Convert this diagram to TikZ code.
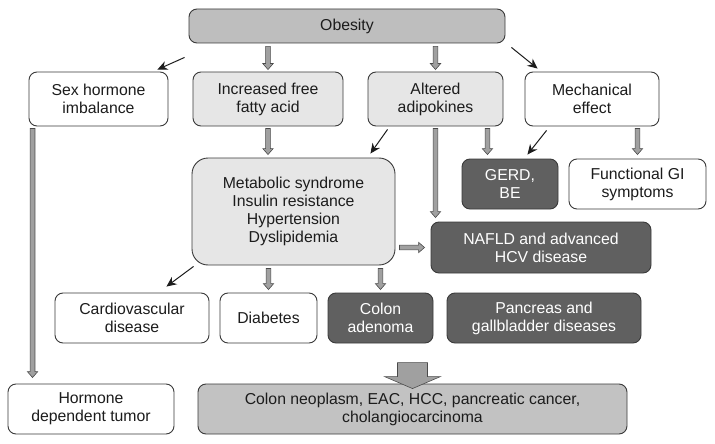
\documentclass[tikz,border=0pt]{standalone}
\usepackage{fontspec}
\setmainfont{Liberation Sans}
\usetikzlibrary{arrows.meta,calc}
\definecolor{txt}{HTML}{1C1C1C}
\definecolor{bord}{HTML}{3A3A3A}
\definecolor{topfill}{HTML}{BEBEBE}
\definecolor{lightfill}{HTML}{E6E6E6}
\definecolor{darkfill}{HTML}{606060}
\definecolor{neofill}{HTML}{C2C2C2}
\definecolor{arrgray}{HTML}{A0A0A0}
\definecolor{arrbord}{HTML}{4A4A4A}
\begin{document}
\begin{tikzpicture}[x=1pt,y=-1pt,
  box/.style={draw=bord, line width=0.9pt, rounded corners=8pt, align=center,
    font=\fontsize{15.8}{18}\selectfont, text=txt, inner sep=0pt, fill=white},
  lightbox/.style={box, fill=lightfill},
  darkbox/.style={box, fill=darkfill, text=white},
  thinarr/.style={draw=txt, line width=1pt, -{Stealth[length=10pt,width=9pt]}},
  fatarr/.style 2 args={draw=arrbord, line width=0.6pt, fill=arrgray,
    to path={let \p1=($(\tikztostart)!#1!(\tikztotarget)$),
                 \p2=($(\tikztotarget)!#2!(\tikztostart)$),
                 \p3=($(\p2)!6pt!(\p1)$) in
      ($(\p1)!2.4pt!90:(\p2)$) -- ($(\p3)!2.4pt!90:(\p2)$) -- ($(\p3)!5.2pt!90:(\p2)$)
      -- (\p2) -- ($(\p3)!5.2pt!-90:(\p2)$) -- ($(\p3)!2.4pt!-90:(\p2)$)
      -- ($(\p1)!2.4pt!-90:(\p2)$) -- cycle}}
]
\useasboundingbox (0,0) rectangle (715,444);

% top row
\node[box, fill=topfill, minimum width=316pt, minimum height=34pt] (obesity) at (347,26) {Obesity};
\node[box, minimum width=139pt, minimum height=54pt] (sex) at (98.5,99) {Sex hormone\\imbalance};
\node[lightbox, minimum width=150pt, minimum height=54pt] (ffa) at (268,99) {Increased free\\fatty acid};
\node[lightbox, minimum width=135pt, minimum height=54pt] (adipo) at (435.5,99) {Altered\\adipokines};
\node[box, minimum width=134pt, minimum height=54pt] (mech) at (592,99) {Mechanical\\effect};

% middle
\node[lightbox, rounded corners=16pt, minimum width=203pt, minimum height=107pt] (meta) at (293.5,211.5)
  {Metabolic syndrome\\Insulin resistance\\Hypertension\\Dyslipidemia};
\node[darkbox, minimum width=96pt, minimum height=50pt] (gerd) at (510,184) {GERD,\\BE};
\node[box, minimum width=137pt, minimum height=50pt] (fgi) at (637.5,184) {Functional GI\\symptoms};
\node[darkbox, minimum width=220pt, minimum height=51pt] (nafld) at (541,247.5) {NAFLD and advanced\\HCV disease};

% lower row
\node[box, minimum width=154pt, minimum height=50pt] (cardio) at (132,318) {Cardiovascular\\disease};
\node[box, minimum width=97pt, minimum height=50pt] (diab) at (268.5,318) {Diabetes};
\node[darkbox, minimum width=105pt, minimum height=50pt] (colon) at (380.5,318) {Colon\\adenoma};
\node[darkbox, minimum width=194pt, minimum height=50pt] (panc) at (544,318) {Pancreas and\\gallbladder diseases};

% bottom row
\node[box, minimum width=166pt, minimum height=50pt] (hormone) at (91,409) {Hormone\\dependent tumor};
\node[box, fill=neofill, minimum width=429pt, minimum height=50pt] (neo) at (412.5,409)
  {Colon neoplasm, EAC, HCC, pancreatic cancer,\\cholangiocarcinoma};

% connectors from obesity
\draw[thinarr] ([shift={(-4,14)}]obesity.south west) -- ([shift={(-11,-2)}]sex.north east);
\draw[fatarr={3pt}{2pt}] (ffa.north |- obesity.south) to (ffa.north);
\draw[fatarr={3pt}{2pt}] (adipo.north |- obesity.south) to (adipo.north);
\draw[thinarr] ([shift={(6,4)}]obesity.south east) -- ([shift={(13,-3)}]mech.north west);

% second level
\draw[fatarr={2pt}{3pt}] (ffa.south) to (ffa.south |- meta.north);
\draw[thinarr] ([shift={(20,3)}]adipo.south west) -- ([shift={(-25,-4)}]meta.north east);
\draw[fatarr={2pt}{4pt}] (adipo.south) to (adipo.south |- nafld.north);
\draw[fatarr={2pt}{4pt}] ([xshift=-16pt]adipo.south east) to ([xshift=-16pt]adipo.south east |- gerd.north);
\draw[thinarr] ([shift={(22,4)}]mech.south west) -- ([shift={(-31,-4)}]gerd.north east);
\draw[fatarr={2pt}{4pt}] (fgi.north |- mech.south) to (fgi.north);

% from metabolic
\draw[fatarr={4pt}{6pt}] (meta.east |- nafld.west) to (nafld.west);
\draw[thinarr] ([shift={(2,1)}]meta.south west) -- ([shift={(-43,-6)}]cardio.north east);
\draw[fatarr={3pt}{3pt}] (diab.north |- meta.south) to (diab.north);
\draw[fatarr={3pt}{3pt}] (colon.north |- meta.south) to (colon.north);

% sex hormone to hormone dependent tumor
\draw[fatarr={2pt}{6pt}] ([xshift=4pt]sex.south west) to ([xshift=4pt]sex.south west |- hormone.north);

% big block arrow
\coordinate (bigtip) at ([yshift=-5pt]neo.north);
\draw[draw=arrbord, line width=0.6pt, fill=arrgray]
  ([shift={(-15,-26)}]bigtip) -- ([shift={(15,-26)}]bigtip) -- ([shift={(15,-12)}]bigtip)
  -- ([shift={(28,-12)}]bigtip) -- (bigtip) -- ([shift={(-28,-12)}]bigtip)
  -- ([shift={(-15,-12)}]bigtip) -- cycle;
\end{tikzpicture}
\end{document}
